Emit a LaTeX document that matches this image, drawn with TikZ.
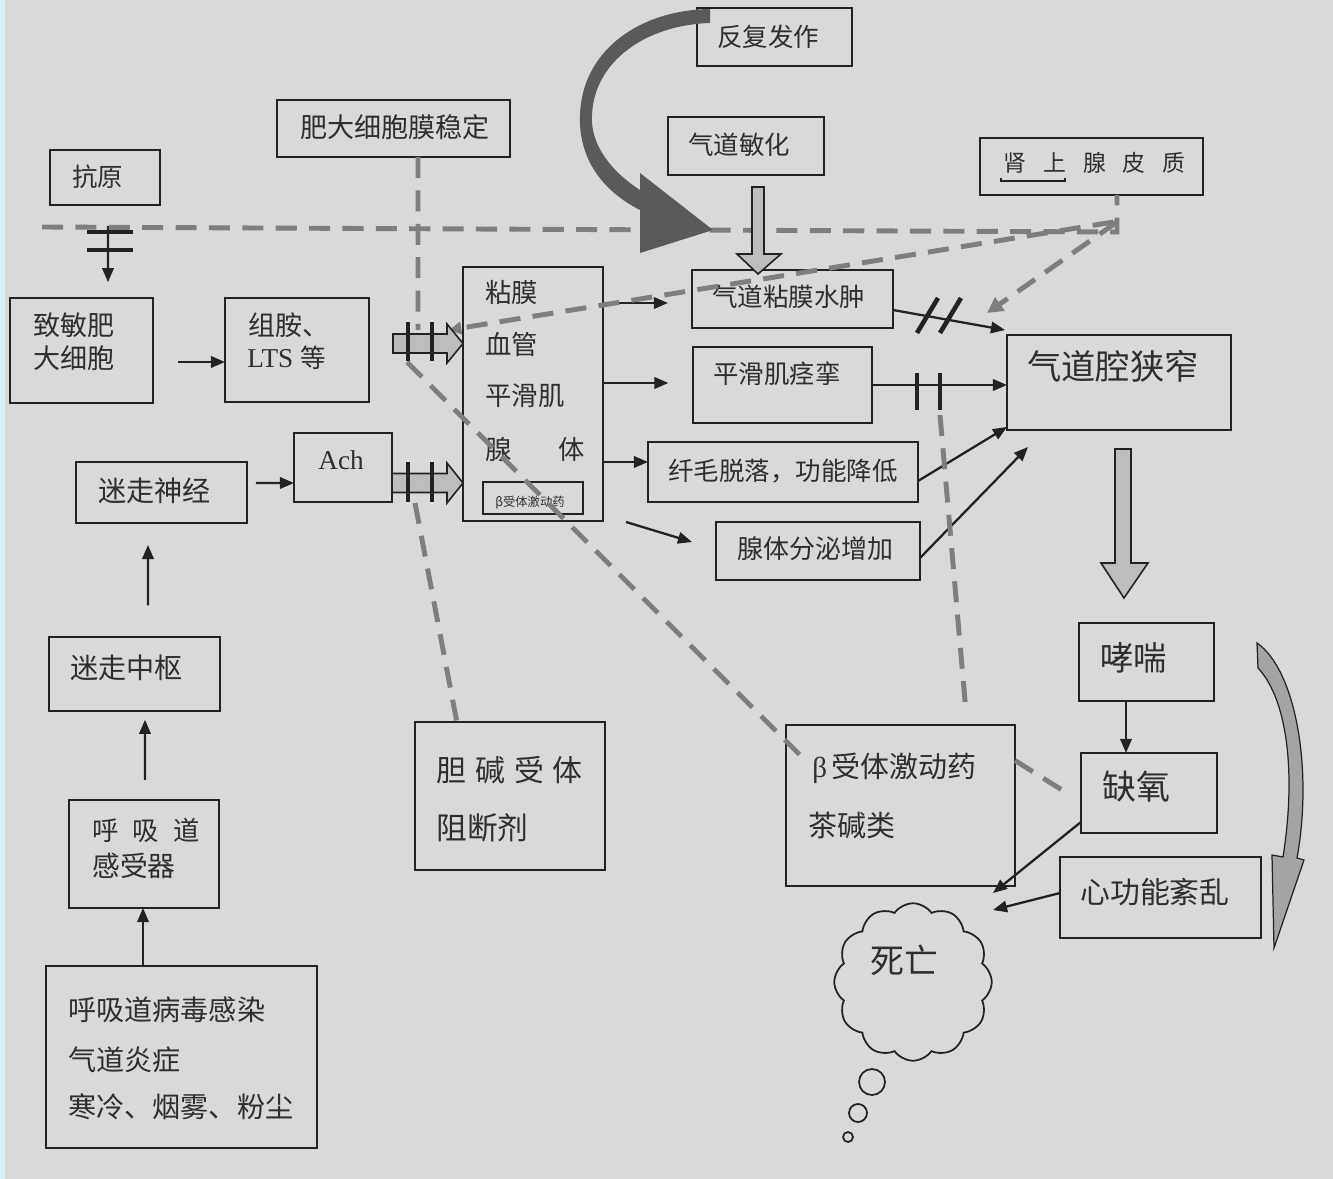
\documentclass[tikz,border=0pt]{standalone}
\usepackage{fontspec}
\setmainfont{Liberation Serif}
\newfontfamily\cjk{Noto Sans CJK SC}
\usetikzlibrary{fit,calc,arrows.meta,shapes.symbols}
\definecolor{bg}{HTML}{D8D9D9}
\definecolor{ink}{HTML}{222222}
\definecolor{txt}{HTML}{2E2E2E}
\definecolor{dashg}{HTML}{7E7E7E}
\definecolor{blockg}{HTML}{BDBDBD}
\definecolor{curvedark}{HTML}{5A5A5A}
\definecolor{curvelight}{HTML}{A4A4A4}
\definecolor{strip}{HTML}{D6F1FA}
\newcommand\fsz[1]{\fontsize{#1}{#1}\selectfont}
\begin{document}
\begin{tikzpicture}[x=0.02cm, y=-0.02cm,
  box/.style={draw=ink, line width=1pt, inner sep=0pt, outer sep=0pt},
  lbl/.style={anchor=west, inner sep=0pt, text=txt, font=\cjk\fsz{14.5}},
  arr/.style={draw=ink, line width=1.3pt, -{Triangle[length=8pt,width=6.5pt]}},
  dsh/.style={draw=dashg, line width=2.8pt, dash pattern=on 12pt off 7pt},
  dtip/.style={-{Triangle[length=9pt,width=9pt]}},
  blk/.style={fill=blockg, draw=ink, line width=0.9pt, line join=miter},
  barline/.style={draw=ink, line width=2.6pt},
  thinline/.style={draw=ink, line width=0.7pt}]
\useasboundingbox (0,0) rectangle (1333,1179);
\fill[bg] (0,0) rectangle (1333,1179);
\fill[strip] (0,0) rectangle (5,1179);

% ---------- boxes ----------
\node[box, fit={(50,150)(160,205)}] (kangyuan) {};
\node[lbl] (tkangyuan) at (72,177) {抗原};
\node[box, fit={(277,100)(510,157)}] (feida) {};
\node[lbl, font=\cjk\fsz{15.4}] (tfeida) at (300,127) {肥大细胞膜稳定};
\node[box, fit={(697,8)(852,66)}] (fanfu) {};
\node[lbl] (tfanfu) at (717,37) {反复发作};
\node[box, fit={(668,117)(824,175)}] (minhua) {};
\node[lbl] (tminhua) at (688,145) {气道敏化};
\node[box, fit={(980,138)(1203,195)}] (shenshang) {};
\node[lbl, font=\cjk\fsz{13}] (tshen) at (1003,163) {肾\hspace{0.34cm}上\hspace{0.34cm}腺\hspace{0.34cm}皮\hspace{0.34cm}质};
\draw[thinline] (1001,178) -- (1001,181) -- (1065,181) -- (1065,178);

\node[box, fit={(10,298)(153,403)}] (zhimin) {};
\node[lbl, font=\cjk\fsz{15.4}] (tzhimin1) at (33,325) {致敏肥};
\node[lbl, font=\cjk\fsz{15.4}] (tzhimin2) at (33,358) {大细胞};
\node[box, fit={(225,298)(369,402)}] (zuan) {};
\node[lbl, font=\cjk\fsz{15.4}] (tzuan1) at (248,325) {组胺、};
\node[lbl, font=\fsz{15.5}] (tzuan2) at (247,358) {LTS {\cjk\fsz{14.5}等}};

\node[box, fit={(463,267)(603,521)}] (big) {};
\node[lbl, font=\cjk\fsz{15}] (tbig1) at (485,293) {粘膜};
\node[lbl, font=\cjk\fsz{15}] (tbig2) at (485,344) {血管};
\node[lbl, font=\cjk\fsz{15}] (tbig3) at (485,396) {平滑肌};
\node[lbl, font=\cjk\fsz{15}] (tbig4) at (485,449) {腺};
\node[lbl, font=\cjk\fsz{15}] (tbig5) at (558,449) {体};
\node[box, line width=0.6pt, fit={(483,482)(583,514)}] (inner) {};
\node[inner sep=0pt, text=txt, font=\cjk\fsz{7}] (tinner) at (530,503) {β受体激动药};

\node[box, fit={(692,270)(893,328)}] (shuizhong) {};
\node[lbl] (tshui) at (712,297) {气道粘膜水肿};
\node[box, fit={(693,347)(872,423)}] (pinghua) {};
\node[lbl] (tping) at (713,374) {平滑肌痉挛};
\node[box, fit={(648,442)(918,502)}] (xianmao) {};
\node[lbl] (txianmao) at (668,471) {纤毛脱落，功能降低};
\node[box, fit={(716,522)(920,580)}] (xianti) {};
\node[lbl, font=\cjk\fsz{14.8}] (txianti) at (737,549) {腺体分泌增加};
\node[box, fit={(1007,335)(1231,430)}] (xiazhai) {};
\node[lbl, font=\cjk\fsz{19.5}] (txiazhai) at (1027,366) {气道腔狭窄};

\node[box, fit={(294,433)(392,502)}] (ach) {};
\node[lbl, font=\fsz{15.5}] (tach) at (318,460) {Ach};
\node[box, fit={(76,462)(247,523)}] (mizou) {};
\node[lbl, font=\cjk\fsz{16}] (tmizou) at (98,491) {迷走神经};
\node[box, fit={(49,637)(220,711)}] (zhongshu) {};
\node[lbl, font=\cjk\fsz{16}] (tzhongshu) at (70,668) {迷走中枢};
\node[box, fit={(69,800)(219,908)}] (ganshou) {};
\node[lbl, font=\cjk\fsz{15}] (tganshou1) at (92,830) {呼\hspace{0.28cm}吸\hspace{0.28cm}道};
\node[lbl, font=\cjk\fsz{15.8}] (tganshou2) at (92,866) {感受器};
\node[box, fit={(46,966)(317,1148)}] (bingdu) {};
\node[lbl, font=\cjk\fsz{16}] (tbingdu1) at (68,1010) {呼吸道病毒感染};
\node[lbl, font=\cjk\fsz{16}] (tbingdu2) at (68,1060) {气道炎症};
\node[lbl, font=\cjk\fsz{16}] (tbingdu3) at (68,1107) {寒冷、烟雾、粉尘};

\node[box, fit={(415,722)(605,870)}] (danjian) {};
\node[lbl, font=\cjk\fsz{17}] (tdanjian1) at (436,770) {胆\hspace{0.18cm}碱\hspace{0.18cm}受\hspace{0.18cm}体};
\node[lbl, font=\cjk\fsz{17.5}] (tdanjian2) at (436,828) {阻断剂};
\node[box, fit={(786,725)(1015,886)}] (beta) {};
\node[lbl, font=\cjk\fsz{16.5}] (tbeta1) at (812,768) {{\rmfamily β}\,受体激动药};
\node[lbl, font=\cjk\fsz{16.5}] (tbeta2) at (808,826) {茶碱类};

\node[box, fit={(1079,623)(1214,701)}] (xiaochuan) {};
\node[lbl, font=\cjk\fsz{19}] (txiaochuan) at (1100,658) {哮喘};
\node[box, fit={(1081,753)(1217,833)}] (queyang) {};
\node[lbl, font=\cjk\fsz{19.3}] (tqueyang) at (1102,787) {缺氧};
\node[box, fit={(1060,857)(1261,938)}] (xingong) {};
\node[lbl, font=\cjk\fsz{17}] (txingong) at (1080,892) {心功能紊乱};

% cloud
\node[cloud, draw=ink, line width=1pt, cloud puffs=12, cloud puff arc=110, aspect=1,
      minimum width=3.15cm, minimum height=3.15cm, inner sep=0pt] (death) at (913,982) {};
\node[lbl, font=\cjk\fsz{19.3}] (tdeath) at (870,960) {死亡};
\draw[ink, line width=1pt] (872,1082) circle [radius=13];
\draw[ink, line width=1pt] (858,1113) circle [radius=9];
\draw[ink, line width=1pt] (848,1137) circle [radius=5];

% ---------- black arrows ----------
\draw[arr, shorten <=12pt, shorten >=9pt] ($(kangyuan.south)+(3,0)$) -- ($(zhimin.north)+(26.5,0)$);
\draw[barline] (87,232) -- (133,232);
\draw[barline] (87,250) -- (133,250);
\draw[arr, shorten <=14pt] ($(zhimin.east)+(0,11.5)$) -- ($(zuan.west)+(0,12)$);
\draw[arr, shorten <=5pt] ($(mizou.east)+(0,-9.5)$) -- ($(ach.west)+(0,15.5)$);
\draw[arr, shorten <=18pt, shorten >=12.5pt] ($(zhongshu.north)+(13.5,0)$) -- ($(mizou.south)+(-13.5,0)$);
\draw[arr, shorten <=11.4pt, shorten >=5pt] ($(ganshou.north)+(1,0)$) -- ($(zhongshu.south)+(10.5,0)$);
\draw[arr] ($(bingdu.north)+(-38.5,0)$) -- ($(ganshou.south)+(-1,0)$);
\draw[arr, shorten >=13.7pt] ($(big.east)+(0,-91)$) -- ($(shuizhong.west)+(0,4)$);
\draw[arr, shorten >=14pt] ($(big.east)+(0,-11)$) -- ($(pinghua.west)+(0,-2)$);
\draw[arr] ($(big.east)+(0,68)$) -- ($(xianmao.west)+(0,-10)$);
\draw[arr] ($(big.south east)+(23,1)$) -- ($(xianti.west)+(-24,-9)$);
\draw[arr] ($(shuizhong.east)+(0,11)$) -- ($(xiazhai.north west)+(-2,-5)$);
\draw[barline] (917,333) -- (938,298);
\draw[barline] (940,333) -- (961,298);
\draw[arr] (pinghua.east) -- ($(xiazhai.west)+(0,2.5)$);
\draw[barline] (917,373) -- (917,410);
\draw[barline] (940,373) -- (940,410);
\draw[arr] ($(xianmao.east)+(0,9)$) -- ($(xiazhai.south west)+(0,-3)$);
\draw[arr] ($(xianti.east)+(0,7)$) -- ($(xiazhai.south west)+(21,17)$);
\draw[arr] ($(xiaochuan.south)+(-20.5,0)$) -- ($(queyang.north)+(-23,0)$);
\coordinate (dA) at ($(death.center)+(80,-89)$);
\coordinate (dB) at ($(death.center)+(80,-72)$);
\draw[arr] ($(queyang.south west)+(0,-11)$) -- (dA);
\draw[arr] ($(xingong.west)+(0,-4.5)$) -- (dB);

% ---------- dashed lines ----------
\coordinate (dL) at (42,227);
\draw[dsh] (dL) -- ($(shenshang.south)+(25.5,37)$) -- ($(shenshang.south)+(25.5,0)$);
\draw[dsh, dtip] ($(shenshang.south)+(25.5,27)$) -- ($(xiazhai.north west)+(-20,-22)$);
\coordinate (dZ) at (449,330);
\draw[dsh, -{Triangle[length=7pt,width=7pt]}] ($(shenshang.south)+(22,27)$) -- (dZ);
\coordinate (dF) at (418,330);
\draw[dsh] ($(feida.south)+(24.5,0)$) -- (dF);
\coordinate (dD) at (407,362);
\draw[dsh] (dD) -- ($(beta.north west)+(14,30)$);
\coordinate (dAc) at (415,503);
\draw[dsh] (dAc) -- ($(danjian.north)+(-52,6)$);
\coordinate (dP) at (940,415);
\draw[dsh] (dP) -- ($(beta.north)+(65.5,-13)$);
\draw[dsh] ($(beta.east)+(0,-45)$) -- ($(queyang.west)+(-11,2)$);

% ---------- block arrows ----------
\filldraw[blk] (393,334) -- (447,334) -- (447,324) -- (463,343.5) -- (447,363) -- (447,353) -- (393,353) -- cycle;
\draw[barline] (408,322) -- (408,361);
\draw[barline] (432,322) -- (432,361);
\filldraw[blk] (392,473.5) -- (447,473.5) -- (447,463) -- (463,483) -- (447,503) -- (447,492.5) -- (392,492.5) -- cycle;
\draw[barline] (408,462) -- (408,502);
\draw[barline] (432,462) -- (432,502);
\filldraw[blk] (752,187) -- (764,187) -- (764,254) -- (781,254) -- (758,274) -- (737,254) -- (752,254) -- cycle;
\filldraw[blk] (1115,449) -- (1131,449) -- (1131,563) -- (1148,563) -- (1124,598) -- (1101,563) -- (1115,563) -- cycle;

% ---------- curved arrows ----------
\fill[curvedark] (710,9) .. controls (640,10) and (582,50) .. (580,115)
  .. controls (578,165) and (610,195) .. (640,210) -- (640,253) -- (713,230) -- (640,173) -- (640,190)
  .. controls (612,172) and (590,145) .. (592,115) .. controls (594,62) and (645,25) .. (710,23) -- cycle;
\filldraw[fill=curvelight, draw=ink, line width=0.7pt] (1257,643) .. controls (1296,670) and (1313,770) .. (1297,858)
  -- (1304,860) -- (1274,948) -- (1272,855) -- (1283,857) .. controls (1296,775) and (1288,700) .. (1258,668) -- cycle;
\end{tikzpicture}
\end{document}
